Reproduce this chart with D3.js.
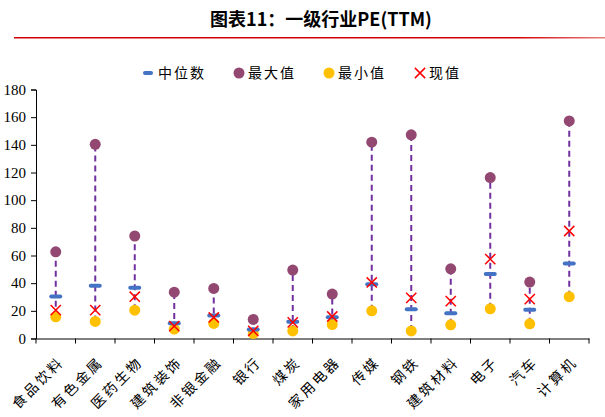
<!DOCTYPE html>
<html>
<head>
<meta charset="utf-8">
<script src="https://cdn.jsdelivr.net/npm/d3@7"></script>
<style>
  body { margin: 0; background: #fff; }
</style>
</head>
<body>
<script>
// data
var industries = ['食品饮料', '有色金属', '医药生物', '建筑装饰', '非银金融', '银行', '煤炭',
                  '家用电器', '传媒', '钢铁', '建筑材料', '电子', '汽车', '计算机'];
var maxVals    = [62.7, 140.4, 74.1, 33.5, 36.2, 13.8, 49.5, 32.1, 141.9, 147.2, 50.4, 116.3, 40.8, 157.3];
var medianVals = [30.4, 38.1, 36.7, 11.1, 16.6, 6.5, 12.1, 15.4, 39.3, 21.2, 18.3, 46.6, 20.8, 54.3];
var minVals    = [15.7, 12.3, 20.5, 6.8, 10.9, 3.6, 5.5, 10.1, 20.0, 5.5, 9.9, 21.5, 10.6, 30.2];
var currVals   = [20.5, 20.5, 30.2, 8.9, 15.2, 5.5, 11.6, 15.9, 40.5, 29.4, 27.0, 57.4, 28.5, 77.7];
var yTicks = [0, 20, 40, 60, 80, 100, 120, 140, 160, 180];

var width = 605, height = 417;
var svg = d3.select('body').append('svg')
            .attr('width', width)
            .attr('height', height);

// title + red rule
svg.append('text')
   .attr('x', 321).attr('y', 26)
   .attr('text-anchor', 'middle')
   .style('font-family', '"Noto Sans CJK SC", sans-serif')
   .style('font-weight', 'bold')
   .style('font-size', '18px')
   .text('图表11：一级行业PE(TTM)');

var grad = svg.append('defs').append('linearGradient').attr('id', 'rule');
grad.append('stop').attr('offset', '0%').attr('stop-color', '#d40000');
grad.append('stop').attr('offset', '85%').attr('stop-color', '#d40000');
grad.append('stop').attr('offset', '100%').attr('stop-color', '#e88080');
svg.append('rect')
   .attr('x', 14).attr('y', 37).attr('width', 591).attr('height', 1.5)
   .attr('fill', 'url(#rule)');

// scales
var x = d3.scaleBand().domain(industries).range([36, 589]);
var y = d3.scaleLinear().domain([0, 180]).range([338.5, 89.5]);

// axes
var yAxis = svg.append('g')
   .attr('transform', 'translate(36,0)')
   .call(d3.axisLeft(y).tickValues(yTicks).tickSize(5).tickPadding(5));
yAxis.selectAll('text')
   .style('font-family', '"Liberation Serif", serif')
   .style('font-size', '15px')
   .attr('fill', '#000');

var xAxis = svg.append('g')
   .attr('transform', 'translate(0,338.5)')
   .call(d3.axisBottom(x).tickSize(0).tickFormat(''));
xAxis.selectAll('.tick').remove();
xAxis.selectAll('line.sep')
   .data(d3.range(industries.length + 1))
   .enter().append('line')
   .attr('x1', function(i) { return 36 + i * x.step(); })
   .attr('x2', function(i) { return 36 + i * x.step(); })
   .attr('y1', 0).attr('y2', 5)
   .attr('stroke', '#000');
svg.selectAll('.domain').attr('stroke', '#000');

// rotated category labels
svg.append('g').selectAll('text')
   .data(industries)
   .enter().append('text')
   .attr('transform', function(d) {
       return 'translate(' + (x(d) + x.bandwidth() / 2 + 9) + ',363) rotate(-45)';
   })
   .attr('text-anchor', 'end')
   .style('font-family', '"Noto Sans CJK SC", sans-serif')
   .style('font-size', '14px')
   .style('letter-spacing', '2.5px')
   .text(function(d) { return d; });

var cx = function(i) { return x(industries[i]) + x.bandwidth() / 2; };
var idx = d3.range(industries.length);

// dashed range lines
svg.append('g').selectAll('line')
   .data(idx)
   .enter().append('line')
   .attr('x1', cx).attr('x2', cx)
   .attr('y1', function(i) { return y(minVals[i]); })
   .attr('y2', function(i) { return y(maxVals[i]); })
   .attr('stroke', '#7030a0')
   .attr('stroke-width', 2)
   .attr('stroke-dasharray', '6,4');

// max
svg.append('g').selectAll('circle')
   .data(idx)
   .enter().append('circle')
   .attr('cx', cx)
   .attr('cy', function(i) { return y(maxVals[i]); })
   .attr('r', 5.5)
   .attr('fill', '#934872');

// min
svg.append('g').selectAll('circle')
   .data(idx)
   .enter().append('circle')
   .attr('cx', cx)
   .attr('cy', function(i) { return y(minVals[i]); })
   .attr('r', 5.5)
   .attr('fill', '#ffc000');

// median
svg.append('g').selectAll('rect')
   .data(idx)
   .enter().append('rect')
   .attr('x', function(i) { return cx(i) - 6.5; })
   .attr('y', function(i) { return y(medianVals[i]) - 2; })
   .attr('width', 13).attr('height', 4)
   .attr('rx', 2)
   .attr('fill', '#4472c4');

// current
var cross = d3.symbol().type(d3.symbolX).size(70);
svg.append('g').selectAll('path')
   .data(idx)
   .enter().append('path')
   .attr('transform', function(i) { return 'translate(' + cx(i) + ',' + y(currVals[i]) + ')'; })
   .attr('d', cross)
   .attr('fill', 'none')
   .attr('stroke', '#ff0000')
   .attr('stroke-width', 1.5);

// legend
var legend = svg.append('g').attr('transform', 'translate(0,73)');
legend.append('rect').attr('x', 143).attr('y', -2).attr('width', 10).attr('height', 4).attr('rx', 2).attr('fill', '#4472c4');
legend.append('circle').attr('cx', 239).attr('cy', 0).attr('r', 5.5).attr('fill', '#934872');
legend.append('circle').attr('cx', 329).attr('cy', 0).attr('r', 5.5).attr('fill', '#ffc000');
legend.append('path').attr('transform', 'translate(420,0)').attr('d', cross)
      .attr('fill', 'none').attr('stroke', '#ff0000').attr('stroke-width', 1.5);
var legendItems = [['中位数', 158], ['最大值', 248], ['最小值', 338], ['现值', 429]];
legend.selectAll('text')
   .data(legendItems)
   .enter().append('text')
   .attr('x', function(d) { return d[1]; })
   .attr('y', 5)
   .style('font-family', '"Noto Sans CJK SC", sans-serif')
   .style('font-size', '14px')
   .style('letter-spacing', '2px')
   .text(function(d) { return d[0]; });
</script>
</body>
</html>
